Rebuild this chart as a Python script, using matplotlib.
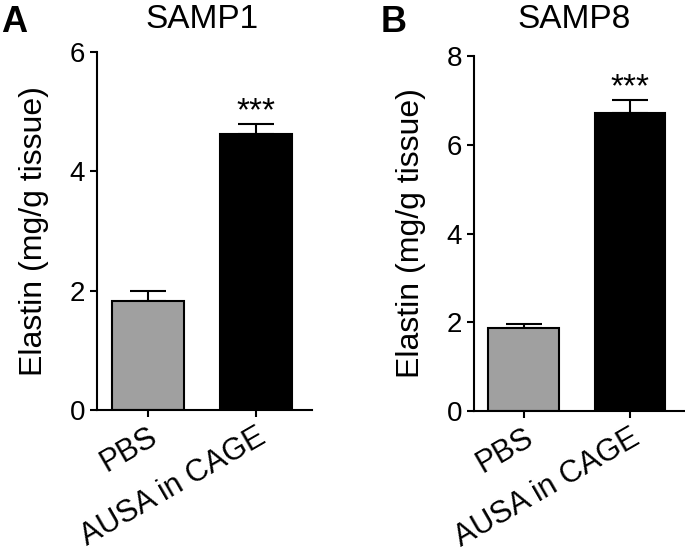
import matplotlib
matplotlib.use("Agg")
import matplotlib.pyplot as plt
import matplotlib.transforms as mtransforms

plt.rcParams['font.family'] = ['Liberation Sans', 'DejaVu Sans']

# Data
groups = ['PBS', 'AUSA in CAGE']
samp1_mean = [1.83, 4.62]
samp1_sem = [0.17, 0.17]
samp8_mean = [1.88, 6.72]
samp8_sem = [0.09, 0.28]
colors = ['#a0a0a0', '#000000']

fig = plt.figure(figsize=(6.85, 5.58), dpi=100)
axA = fig.add_axes([0.1416, 0.2652, 0.3139, 0.6416])
axB = fig.add_axes([0.692, 0.2634, 0.308, 0.6362])


def panel(ax, means, sems, ymax, yticks, title, letter, letter_x, title_x):
    x = list(range(len(groups)))
    ax.bar(x, means, width=0.667, color=colors, edgecolor='black', linewidth=1.5, zorder=2)
    ax.errorbar(x, means, yerr=[[0] * len(sems), sems], fmt='none', ecolor='black',
                elinewidth=1.5, capsize=13, capthick=1.5, zorder=1)
    ax.annotate('***', (1, means[1] + sems[1]), xytext=(0, 3), textcoords='offset points',
                ha='center', va='baseline', fontsize=24)
    ax.set_xlim(-0.47, 1.52)
    ax.set_ylim(0, ymax)
    ax.set_yticks(yticks)
    ax.set_xticks(x)
    ax.set_xticklabels(groups, rotation=30, ha='right', va='top', rotation_mode='anchor', fontsize=22)
    shift = mtransforms.ScaledTranslation(10 / 100, -6 / 100, fig.dpi_scale_trans)
    for lab in ax.get_xticklabels():
        lab.set_transform(lab.get_transform() + shift)
    ax.tick_params(axis='y', labelsize=20, width=1.5, length=5, direction='out')
    ax.tick_params(axis='x', width=1.5, length=5, direction='out')
    for s in ['top', 'right']:
        ax.spines[s].set_visible(False)
    for s in ['left', 'bottom']:
        ax.spines[s].set_linewidth(1.5)
    ax.set_ylabel('Elastin (mg/g tissue)', fontsize=23, labelpad=15)
    trans = mtransforms.blended_transform_factory(ax.transData, fig.transFigure)
    ax.text(title_x, 0.95, title, transform=trans, ha='center', va='baseline', fontsize=24)
    fig.text(letter_x, 0.943, letter, ha='left', va='baseline', fontsize=26, fontweight='bold')


panel(axA, samp1_mean, samp1_sem, 6, [0, 2, 4, 6], 'SAMP1', 'A', 0.002, 0.5)
panel(axB, samp8_mean, samp8_sem, 8, [0, 2, 4, 6, 8], 'SAMP8', 'B', 0.556, 0.47)

fig.savefig('out.png', dpi=100)
